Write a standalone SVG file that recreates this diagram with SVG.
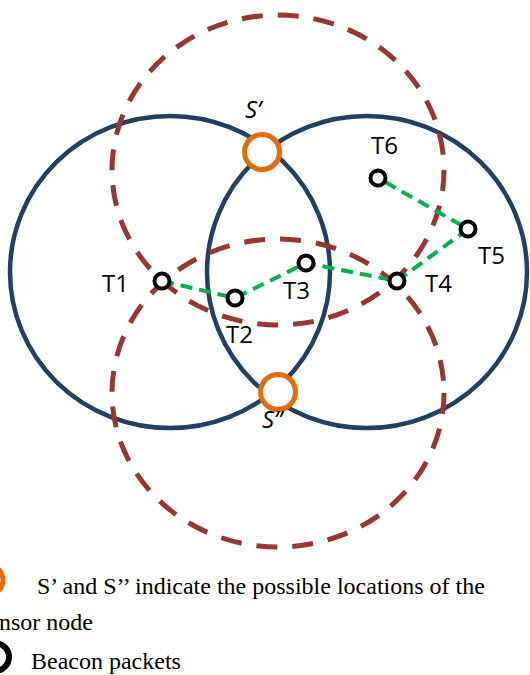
<svg xmlns="http://www.w3.org/2000/svg" width="530" height="675" viewBox="0 0 530 675">
<style>
.range{fill:none;stroke:#243f60;stroke-width:4.5}
.dash{fill:none;stroke:#953735;stroke-width:5;stroke-dasharray:21 15}
.link{fill:none;stroke:#00b050;stroke-width:4;stroke-dasharray:12 7}
.beacon{fill:#fff;stroke:#000;stroke-width:4}
.sensor{fill:#fff;stroke:#e46c0a;stroke-width:5}
.lbl{font-family:"Open Sans","Noto Sans",sans-serif;font-size:24px;fill:#000}
.it{font-style:italic}
.leg{font-family:"Liberation Serif","Times New Roman",serif;font-size:24px;fill:#000}
</style>
<rect width="530" height="675" fill="#fff"/>
<g id="ranges">
<ellipse class="range" cx="170" cy="272" rx="160" ry="156"/>
<ellipse class="range" cx="367" cy="272" rx="160" ry="156"/>
<ellipse class="dash" cx="278" cy="170" rx="166" ry="155"/>
<ellipse class="dash" cx="278" cy="393" rx="166" ry="154"/>
</g>
<g id="connectors">
<polyline class="link" points="162,281 235,298 306,263 397,281 468,229 378,178"/>
</g>
<g id="T1"><circle class="beacon" cx="162" cy="281" r="7.5"/><text class="lbl" x="102" y="292">T1</text></g>
<g id="T2"><circle class="beacon" cx="235" cy="298" r="7.5"/><text class="lbl" x="226" y="343">T2</text></g>
<g id="T3"><circle class="beacon" cx="306" cy="263" r="7.5"/><text class="lbl" x="283" y="299">T3</text></g>
<g id="T4"><circle class="beacon" cx="397" cy="281" r="7.5"/><text class="lbl" x="425" y="292">T4</text></g>
<g id="T5"><circle class="beacon" cx="468" cy="229" r="7.5"/><text class="lbl" x="478" y="264">T5</text></g>
<g id="T6"><circle class="beacon" cx="378" cy="178" r="7.5"/><text class="lbl" x="371" y="154">T6</text></g>
<g id="S1"><circle class="sensor" cx="262" cy="152" r="17.5"/><text class="lbl it" x="245" y="118">S’</text></g>
<g id="S2"><circle class="sensor" cx="278" cy="392" r="17.5"/><text class="lbl it" x="262" y="428">S’’</text></g>
<g id="legend">
<circle class="sensor" cx="-12" cy="580" r="15"/>
<text class="leg" x="37" y="594">S’ and S’’ indicate the possible locations of the</text>
<text class="leg" x="-1" y="630">nsor node</text>
<circle fill="none" stroke="#000" stroke-width="6" cx="-5" cy="657" r="14"/>
<text class="leg" x="31" y="669">Beacon packets</text>
</g>
</svg>
